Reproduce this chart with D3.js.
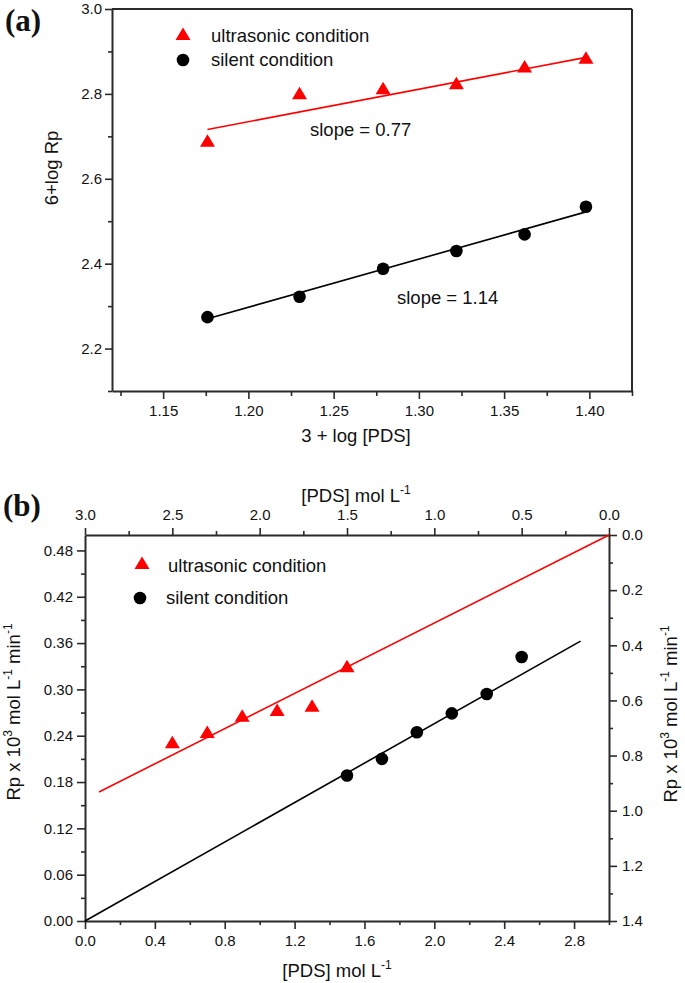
<!DOCTYPE html>
<html><head><meta charset="utf-8">
<script src="https://cdn.jsdelivr.net/npm/d3@7"></script>
<style>
html,body{margin:0;padding:0;background:#fff;}
svg{display:block;}
text{font-family:"Liberation Sans",Arial,sans-serif;fill:#111;}
</style></head>
<body>
<svg id="chart" width="685" height="983"></svg>
<script>
// ---------- Panel (a) data ----------
const logPdsA = [1.176, 1.230, 1.279, 1.322, 1.362, 1.398];
const ultraLogRpA = [2.687, 2.799, 2.811, 2.823, 2.862, 2.883];
const silentLogRpA = [2.274, 2.322, 2.388, 2.430, 2.469, 2.534];
const ultraFitAx = [1.176, 1.398];
const ultraFitAy = [2.716, 2.886];
const silentFitAx = [1.176, 1.398];
const silentFitAy = [2.270, 2.522];
const xTicksA = [1.15, 1.20, 1.25, 1.30, 1.35, 1.40];
const xMinorA = [1.125, 1.175, 1.225, 1.275, 1.325, 1.375, 1.425];
const yTicksA = [2.2, 2.4, 2.6, 2.8, 3.0];
const yMinorA = [2.1, 2.3, 2.5, 2.7, 2.9];

// ---------- Panel (b) data ----------
const pdsSilentB = [1.5, 1.7, 1.9, 2.1, 2.3, 2.5];          // bottom axis
const rpSilentB = [0.1885, 0.210, 0.2445, 0.269, 0.294, 0.342]; // left axis
const pdsUltraB = [2.5, 2.3, 2.1, 1.9, 1.7, 1.5];           // top axis
const rpUltraB = [0.755, 0.718, 0.659, 0.638, 0.623, 0.480];   // right axis
const silentFitBx = [0, 2.837];
const silentFitBy = [0, 0.3626];
const ultraFitBx = [0, 2.92];
const ultraFitBy = [0, 0.932];
const xTicksB = [0, 0.4, 0.8, 1.2, 1.6, 2.0, 2.4, 2.8];
const xMinorB = [0.2, 0.6, 1.0, 1.4, 1.8, 2.2, 2.6, 3.0];
const xTopTicksB = [3.0, 2.5, 2.0, 1.5, 1.0, 0.5, 0.0];
const xTopMinorB = [2.75, 2.25, 1.75, 1.25, 0.75, 0.25];
const yLeftTicksB = [0, 0.06, 0.12, 0.18, 0.24, 0.30, 0.36, 0.42, 0.48];
const yLeftMinorB = [0.03, 0.09, 0.15, 0.21, 0.27, 0.33, 0.39, 0.45];
const yRightTicksB = [0, 0.2, 0.4, 0.6, 0.8, 1.0, 1.2, 1.4];
const yRightMinorB = [0.1, 0.3, 0.5, 0.7, 0.9, 1.1, 1.3];

const seriesNames = ["ultrasonic condition", "silent condition"];
const RED = "#ff0000", BLACK = "#000000", AXIS = "#2a2a2a";

const svg = d3.select("#chart");
const tri = "M0,-7.5L7.5,5L-7.5,5Z";

function styleAxis(g, fs) {
  g.select(".domain").attr("stroke", AXIS).attr("stroke-width", 2);
  g.selectAll(".tick line").attr("stroke", AXIS).attr("stroke-width", 1.6);
  g.selectAll(".tick text").attr("font-size", fs).attr("fill", "#111")
    .attr("font-family", '"Liberation Sans",Arial,sans-serif');
}
function minor(g) {
  g.select(".domain").remove();
  g.selectAll(".tick line").attr("stroke", AXIS).attr("stroke-width", 1.6);
  g.selectAll(".tick text").remove();
}

// =============== Panel (a) ===============
const xA = d3.scaleLinear().domain([1.12, 1.425]).range([112, 632]);
const yA = d3.scaleLinear().domain([2.1, 3.0]).range([391, 9]);

svg.append("text").attr("x", 5).attr("y", 31).attr("font-size", 31)
  .attr("font-weight", "bold").style("font-family", '"Liberation Serif","Times New Roman",serif')
  .text("(a)");

// box top & right
svg.append("line").attr("x1", xA(1.12)).attr("x2", xA(1.425)).attr("y1", yA(3.0)).attr("y2", yA(3.0))
  .attr("stroke", AXIS).attr("stroke-width", 2);
svg.append("line").attr("x1", xA(1.425)).attr("x2", xA(1.425)).attr("y1", yA(3.0)).attr("y2", yA(2.1))
  .attr("stroke", AXIS).attr("stroke-width", 2);

svg.append("g").attr("transform", `translate(0,${yA(2.1)})`)
  .call(d3.axisBottom(xA).tickValues(xMinorA).tickSize(5).tickFormat("")).call(minor);
svg.append("g").attr("transform", `translate(${xA(1.12)},0)`)
  .call(d3.axisLeft(yA).tickValues(yMinorA).tickSize(4).tickFormat("")).call(minor);
svg.append("g").attr("transform", `translate(0,${yA(2.1)})`)
  .call(d3.axisBottom(xA).tickValues(xTicksA).tickSize(8).tickPadding(6).tickSizeOuter(0).tickFormat(d3.format(".2f")))
  .call(g => styleAxis(g, 15));
svg.append("g").attr("transform", `translate(${xA(1.12)},0)`)
  .call(d3.axisLeft(yA).tickValues(yTicksA).tickSize(7).tickPadding(3).tickSizeOuter(0).tickFormat(d3.format(".1f")))
  .call(g => styleAxis(g, 15));

// fit lines
const lineA = d3.line().x(d => xA(d[0])).y(d => yA(d[1]));
svg.append("path").attr("d", lineA(d3.zip(ultraFitAx, ultraFitAy))).attr("stroke", RED).attr("stroke-width", 1.6).attr("fill", "none");
svg.append("path").attr("d", lineA(d3.zip(silentFitAx, silentFitAy))).attr("stroke", BLACK).attr("stroke-width", 1.6).attr("fill", "none");

// markers
svg.append("g").selectAll("path").data(d3.zip(logPdsA, ultraLogRpA)).join("path")
  .attr("d", tri).attr("fill", RED).attr("transform", d => `translate(${xA(d[0])},${yA(d[1])})`);
svg.append("g").selectAll("circle").data(d3.zip(logPdsA, silentLogRpA)).join("circle")
  .attr("cx", d => xA(d[0])).attr("cy", d => yA(d[1])).attr("r", 6.3).attr("fill", BLACK);

// legend a
svg.append("path").attr("d", tri).attr("fill", RED).attr("transform", "translate(183,35)");
svg.append("text").attr("x", 211).attr("y", 42).attr("font-size", 18.5).text(seriesNames[0]);
svg.append("circle").attr("cx", 183).attr("cy", 60).attr("r", 6.3).attr("fill", BLACK);
svg.append("text").attr("x", 211).attr("y", 66).attr("font-size", 18.5).text(seriesNames[1]);

// slope labels
svg.append("text").attr("x", 310).attr("y", 136).attr("font-size", 18.5).text("slope = 0.77");
svg.append("text").attr("x", 397).attr("y", 304).attr("font-size", 18.5).text("slope = 1.14");

// axis titles a
svg.append("text").attr("text-anchor", "middle").attr("font-size", 18.5)
  .attr("transform", "translate(58,168) rotate(-90)").text("6+log Rp");
svg.append("text").attr("text-anchor", "middle").attr("font-size", 18.5)
  .attr("x", 356).attr("y", 442).text("3 + log [PDS]");

// =============== Panel (b) ===============
const xB = d3.scaleLinear().domain([0, 3.0]).range([85, 609]);
const xBt = d3.scaleLinear().domain([3.0, 0]).range([85, 609]);
const yB = d3.scaleLinear().domain([0, 0.5]).range([921, 535]);
const yBr = d3.scaleLinear().domain([0, 1.4]).range([535, 921]);

svg.append("text").attr("x", 3).attr("y", 516).attr("font-size", 31)
  .attr("font-weight", "bold").style("font-family", '"Liberation Serif","Times New Roman",serif')
  .text("(b)");

// minor ticks
svg.append("g").attr("transform", `translate(0,921)`)
  .call(d3.axisBottom(xB).tickValues(xMinorB).tickSize(4).tickFormat("")).call(minor);
svg.append("g").attr("transform", `translate(0,535)`)
  .call(d3.axisTop(xBt).tickValues(xTopMinorB).tickSize(4).tickFormat("")).call(minor);
svg.append("g").attr("transform", `translate(85,0)`)
  .call(d3.axisLeft(yB).tickValues(yLeftMinorB).tickSize(4).tickFormat("")).call(minor);
svg.append("g").attr("transform", `translate(609,0)`)
  .call(d3.axisRight(yBr).tickValues(yRightMinorB).tickSize(4).tickFormat("")).call(minor);

// major axes
svg.append("g").attr("transform", `translate(0,921)`)
  .call(d3.axisBottom(xB).tickValues(xTicksB).tickSize(8).tickPadding(6).tickSizeOuter(0).tickFormat(d3.format(".1f")))
  .call(g => styleAxis(g, 15));
svg.append("g").attr("transform", `translate(0,535)`)
  .call(d3.axisTop(xBt).tickValues(xTopTicksB).tickSize(7).tickPadding(8).tickSizeOuter(0).tickFormat(d3.format(".1f")))
  .call(g => styleAxis(g, 15));
svg.append("g").attr("transform", `translate(85,0)`)
  .call(d3.axisLeft(yB).tickValues(yLeftTicksB).tickSize(8).tickPadding(4).tickSizeOuter(0).tickFormat(d3.format(".2f")))
  .call(g => styleAxis(g, 15));
svg.append("g").attr("transform", `translate(609,0)`)
  .call(d3.axisRight(yBr).tickValues(yRightTicksB).tickSize(8).tickPadding(5).tickSizeOuter(0).tickFormat(d3.format(".1f")))
  .call(g => styleAxis(g, 15));

// fit lines
const lineB = d3.line().x(d => xB(d[0])).y(d => yB(d[1]));
const lineBt = d3.line().x(d => xBt(d[0])).y(d => yBr(d[1]));
svg.append("path").attr("d", lineBt(d3.zip(ultraFitBx, ultraFitBy))).attr("stroke", RED).attr("stroke-width", 1.6).attr("fill", "none");
svg.append("path").attr("d", lineB(d3.zip(silentFitBx, silentFitBy))).attr("stroke", BLACK).attr("stroke-width", 1.6).attr("fill", "none");

// markers
svg.append("g").selectAll("path").data(d3.zip(pdsUltraB, rpUltraB)).join("path")
  .attr("d", tri).attr("fill", RED).attr("transform", d => `translate(${xBt(d[0])},${yBr(d[1])})`);
svg.append("g").selectAll("circle").data(d3.zip(pdsSilentB, rpSilentB)).join("circle")
  .attr("cx", d => xB(d[0])).attr("cy", d => yB(d[1])).attr("r", 6.3).attr("fill", BLACK);

// legend b
svg.append("path").attr("d", tri).attr("fill", RED).attr("transform", "translate(142,564)");
svg.append("text").attr("x", 168).attr("y", 572).attr("font-size", 18.5).text(seriesNames[0]);
svg.append("circle").attr("cx", 140).attr("cy", 598).attr("r", 6.3).attr("fill", BLACK);
svg.append("text").attr("x", 166).attr("y", 604).attr("font-size", 18.5).text(seriesNames[1]);

// axis titles b
function pdsTitle(sel) {
  sel.append("tspan").text("[PDS] mol L");
  sel.append("tspan").attr("dy", -8).attr("font-size", 12).text("-1");
}
function rpTitle(sel) {
  sel.append("tspan").text("Rp x 10");
  sel.append("tspan").attr("dy", -8).attr("font-size", 12).text("3");
  sel.append("tspan").attr("dy", 8).text(" mol L");
  sel.append("tspan").attr("dy", -8).attr("font-size", 12).text("-1");
  sel.append("tspan").attr("dy", 8).text(" min");
  sel.append("tspan").attr("dy", -8).attr("font-size", 12).text("-1");
}
svg.append("text").attr("text-anchor", "middle").attr("font-size", 18.5)
  .attr("x", 356).attr("y", 502).call(pdsTitle);
svg.append("text").attr("text-anchor", "middle").attr("font-size", 18.5)
  .attr("x", 337).attr("y", 977).call(pdsTitle);
svg.append("text").attr("text-anchor", "middle").attr("font-size", 18.5)
  .attr("transform", "translate(20,712) rotate(-90)").call(rpTitle);
svg.append("text").attr("text-anchor", "middle").attr("font-size", 18.5)
  .attr("transform", "translate(677,714) rotate(-90)").call(rpTitle);
</script>
</body></html>
